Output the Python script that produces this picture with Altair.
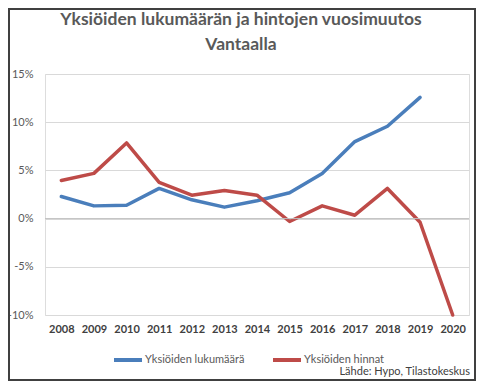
import altair as alt
import pandas as pd

years = [str(y) for y in range(2008, 2021)]
lukumaara = [2.29, 1.32, 1.39, 3.13, 1.95, 1.19, 1.85, 2.68, 4.69, 7.99, 9.58, 12.57, None]
hinnat = [3.96, 4.69, 7.85, 3.75, 2.43, 2.92, 2.43, -0.3, 1.32, 0.35, 3.13, -0.38, -10.0]
series_names = ["Yksiöiden lukumäärä", "Yksiöiden hinnat"]
colors = ["#4A7EBB", "#BE4B48"]
title_lines = ["Yksiöiden lukumäärän ja hintojen vuosimuutos", "Vantaalla"]
source_text = "Lähde: Hypo, Tilastokeskus"

rows = []
for name, vals in zip(series_names, [lukumaara, hinnat]):
    for y, v in zip(years, vals):
        if v is not None:
            rows.append({"Vuosi": y, "Sarja": name, "Muutos": v / 100})
df = pd.DataFrame(rows)

FONT = "Lato"
W, H = 424, 241

x_enc = alt.X("Vuosi:N", scale=alt.Scale(type="point", padding=0.5, domain=years),
              axis=alt.Axis(title=None, labelAngle=0, domain=False, ticks=False,
                            labelFont=FONT, labelFontSize=11, labelFontWeight="bold",
                            labelColor="#404040", labelPadding=8))
y_enc = alt.Y("Muutos:Q", scale=alt.Scale(domain=[-0.10, 0.15], nice=False, zero=False),
              axis=alt.Axis(title=None, values=[-0.10, -0.05, 0, 0.05, 0.10, 0.15],
                            labelExpr="(datum.value < 0 ? '-' : '') + format(abs(datum.value), '.0%')",
                            domain=False, ticks=False, gridColor="#D9D9D9", gridWidth=1,
                            labelFont=FONT, labelFontSize=11, labelColor="#595959",
                            labelPadding=12))

lines = alt.Chart(df).mark_line(strokeWidth=3.5, strokeJoin="round", strokeCap="round").encode(
    x=x_enc, y=y_enc,
    color=alt.Color("Sarja:N", scale=alt.Scale(domain=series_names, range=colors),
                    legend=alt.Legend(title=None, orient="none", legendX=67, legendY=270,
                                      direction="horizontal", symbolType="stroke",
                                      symbolSize=784, symbolStrokeWidth=4, labelOffset=1,
                                      columnPadding=20, labelFont=FONT, labelFontSize=11,
                                      labelColor="#595959")),
    detail="Sarja:N",
)

zero = alt.Chart(pd.DataFrame({"Muutos": [0.0]})).mark_rule(color="#BFBFBF", strokeWidth=1).encode(
    y=alt.Y("Muutos:Q"), x=alt.value(0), x2=alt.value(W))

def text_layer(txt, xv, yv, **kw):
    return alt.Chart(pd.DataFrame({"t": [txt]})).mark_text(font=FONT, baseline="middle", **kw).encode(
        text="t:N", x=alt.value(xv), y=alt.value(yv))

title1 = text_layer(title_lines[0], 196, -54, fontSize=17.5, fontWeight="bold", color="#595959", align="center")
title2 = text_layer(title_lines[1], 196, -29, fontSize=17.5, fontWeight="bold", color="#595959", align="center")
src = text_layer(source_text, 425, 298, fontSize=11, color="#404040", align="right")

border = alt.Chart(pd.DataFrame({"a": [0]})).mark_rect(
    fill=None, stroke="#404040", strokeWidth=2).encode(
    x=alt.value(-36), x2=alt.value(430), y=alt.value(-65), y2=alt.value(306))

chart = alt.layer(lines, zero, title1, title2, src, border).properties(
    width=W, height=H,
    autosize=alt.AutoSizeParams(type="none"),
    padding={"left": 37, "top": 66, "right": 7, "bottom": 66},
).configure_view(stroke=None).configure(background="white")

chart.save("out.html", embed_options={"renderer": "svg", "actions": False})
